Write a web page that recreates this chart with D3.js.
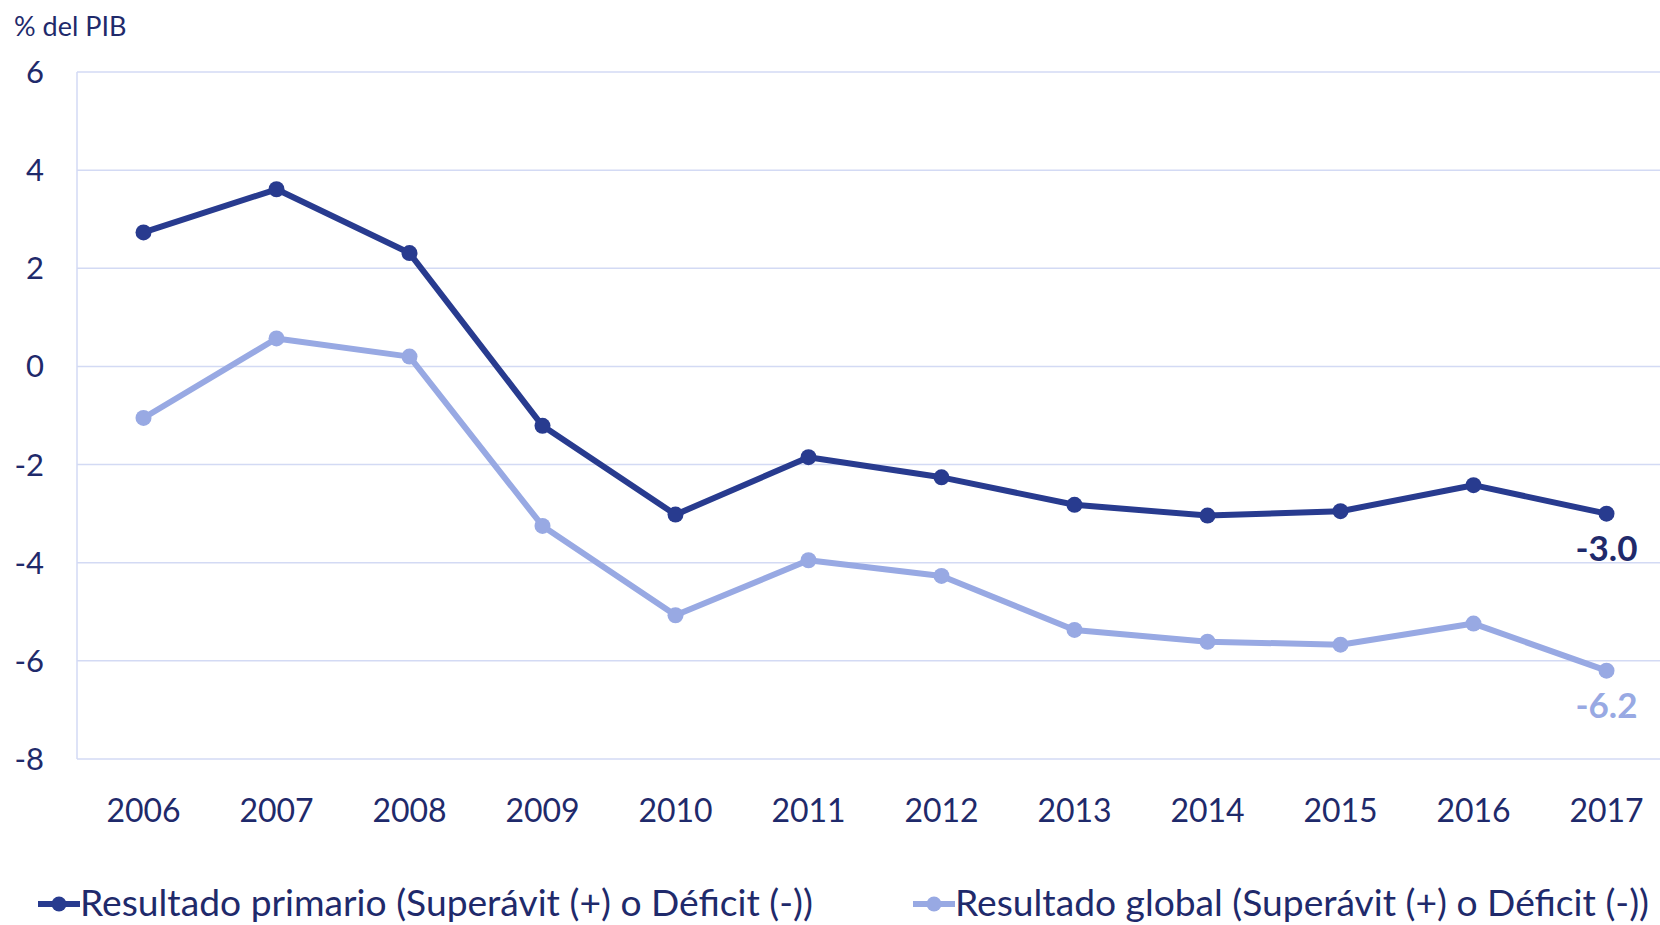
<!DOCTYPE html>
<html>
<head>
<meta http-equiv='Content-Type' content='text/html;charset=utf-8'/>
<title>Resultado fiscal</title>
<script src='https://d3js.org/d3.v7.min.js'></script>
<style>
  body { margin: 0; background: #ffffff; }
  text { font-family: Lato, 'Open Sans', sans-serif; fill: #1f2a6b; }
</style>
</head>
<body>
<script>
'use strict'
const years = ['2006', '2007', '2008', '2009', '2010', '2011', '2012', '2013', '2014', '2015', '2016', '2017']
const primario = [2.73, 3.61, 2.31, -1.21, -3.02, -1.85, -2.26, -2.82, -3.04, -2.95, -2.42, -3.0]
const global = [-1.05, 0.57, 0.2, -3.25, -5.07, -3.95, -4.27, -5.37, -5.61, -5.67, -5.24, -6.2]
const yTicks = [6, 4, 2, 0, -2, -4, -6, -8]
const seriesNames = ['Resultado primario (Superávit (+) o Déficit (-))', 'Resultado global (Superávit (+) o Déficit (-))']
const colors = ['#283b8f', '#98a9e3']

const width = 1660
const height = 925
const margin = {top: 72, right: -13, bottom: 166, left: 77}

const svg = d3.select('body').append('svg')
	.attr('width', width)
	.attr('height', height)

const x = d3.scalePoint()
	.domain(years)
	.range([margin.left, width - margin.right])
	.padding(0.5)

const y = d3.scaleLinear()
	.domain([-8, 6])
	.range([height - margin.bottom, margin.top])

// gridlines
svg.append('g')
	.selectAll('line')
	.data(yTicks)
	.join('line')
	.attr('x1', margin.left)
	.attr('x2', width)
	.attr('y1', d => y(d))
	.attr('y2', d => y(d))
	.attr('stroke', '#d3daf4')
	.attr('stroke-width', 1.5)

svg.append('line')
	.attr('x1', margin.left)
	.attr('x2', margin.left)
	.attr('y1', y(6))
	.attr('y2', y(-8))
	.attr('stroke', '#d3daf4')
	.attr('stroke-width', 1.5)

// y tick labels
svg.append('g')
	.selectAll('text')
	.data(yTicks)
	.join('text')
	.attr('x', 44)
	.attr('y', d => y(d) + 11)
	.attr('text-anchor', 'end')
	.attr('font-size', 31)
	.text(d => d)

// x tick labels
svg.append('g')
	.selectAll('text')
	.data(years)
	.join('text')
	.attr('x', d => x(d))
	.attr('y', 822)
	.attr('text-anchor', 'middle')
	.attr('font-size', 32)
	.text(d => d)

svg.append('text')
	.attr('x', 14)
	.attr('y', 36)
	.attr('font-size', 27)
	.text('% del PIB')

const line = d3.line()
	.x((d, i) => x(years[i]))
	.y(d => y(d))

const allSeries = [primario, global]
allSeries.forEach(function(data, k)
{
	svg.append('path')
		.datum(data)
		.attr('d', line)
		.attr('fill', 'none')
		.attr('stroke', colors[k])
		.attr('stroke-width', 6)
		.attr('stroke-linejoin', 'round')

	svg.append('g')
		.selectAll('circle')
		.data(data)
		.join('circle')
		.attr('cx', (d, i) => x(years[i]))
		.attr('cy', d => y(d))
		.attr('r', 8)
		.attr('fill', colors[k])

	const last = data[data.length - 1]
	svg.append('text')
		.attr('x', x(years[years.length - 1]))
		.attr('y', y(last) + 47)
		.attr('text-anchor', 'middle')
		.attr('font-size', 35)
		.attr('font-weight', 'bold')
		.style('fill', k == 0 ? '#1f2a6b' : colors[1])
		.text(last.toFixed(1))
})

// legend
const legendX = [38, 913]
const legendW = [733, 694]
seriesNames.forEach(function(name, k)
{
	const g = svg.append('g').attr('transform', 'translate(' + legendX[k] + ',904)')
	g.append('line')
		.attr('x1', 0)
		.attr('x2', 42)
		.attr('stroke', colors[k])
		.attr('stroke-width', 6)
	g.append('circle')
		.attr('cx', 21)
		.attr('r', 7.5)
		.attr('fill', colors[k])
	g.append('text')
		.attr('x', 42)
		.attr('y', 12)
		.attr('font-size', 36)
		.attr('textLength', legendW[k])
		.attr('lengthAdjust', 'spacingAndGlyphs')
		.text(name)
})
</script>
</body>
</html>
